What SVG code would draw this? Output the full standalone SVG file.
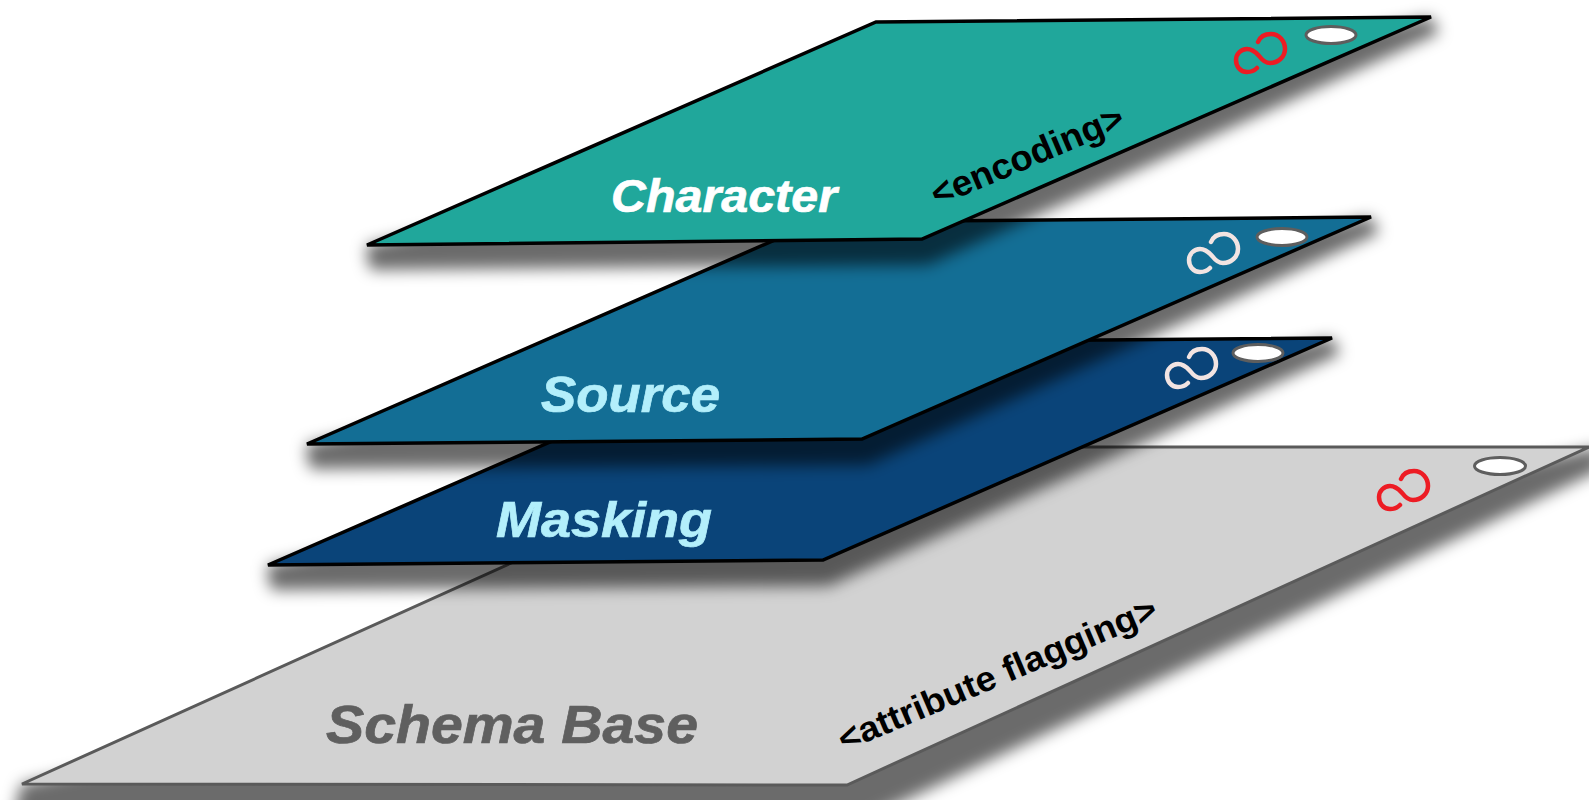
<svg xmlns="http://www.w3.org/2000/svg" xmlns:xlink="http://www.w3.org/1999/xlink" width="1589" height="800" viewBox="0 0 1589 800">
<style>
.plane{stroke:#000;stroke-width:3.5;stroke-linejoin:miter}
.shadow{fill:#000;fill-opacity:.58;filter:url(#blur)}
.hole{fill:#fff;stroke:#5e5e5e;stroke-width:3}
.lbl{font-family:"Liberation Sans",Arial,sans-serif;font-weight:700;font-style:italic;stroke-width:.7}
.tag{font-family:"Liberation Sans",Arial,sans-serif;font-weight:700;fill:#000}
.loop{fill:none;stroke-width:4.500;stroke-linecap:round}
</style>
<defs>
<filter id="blur" filterUnits="userSpaceOnUse" x="-50" y="-50" width="1700" height="900">
<feGaussianBlur stdDeviation="7.500"/>
</filter>
<path id="inf" d="M0 0C-3 3-6 4-10 4C-17 4-21-2-21-8C-21-14-16-19-10-19C-3-19 0-14 3-11C6-7 9-5 13-5C21-5 28-11 28-19C28-27 22-34 14-34C8-34 3-31 1-26"/>
</defs>
<rect width="1589" height="800" fill="#fff"/>
<g id="schema-base">
<polygon class="shadow" points="1600,447 1600,470 860,822 14,822 18,795 22,784"/>
<polygon class="plane" style="stroke:#5a5a5a;stroke-width:3" points="768,447 1589,447 847,785 22,784" fill="#d2d2d2"/>
<ellipse class="hole" cx="1500" cy="466" rx="25.500" ry="8.500"/>
<use xlink:href="#inf" href="#inf" class="loop" stroke="#ed1c24" transform="translate(1400,505)"/>
<text class="lbl" x="326" y="743" font-size="54" fill="#5f5f5f" stroke="#5f5f5f" textLength="372" lengthAdjust="spacingAndGlyphs">Schema Base</text>
<text class="tag" transform="translate(844,752) rotate(-23)" font-size="35" textLength="343" lengthAdjust="spacingAndGlyphs">&lt;attribute flagging&gt;</text>
</g>
<g id="masking">
<polygon class="shadow" points="1332,338 1340,354 829,586 272,590 268,579 268,565"/>
<polygon class="plane" points="777,343 1332,338 823,560 268,565" fill="#0a4479"/>
<ellipse class="hole" cx="1258" cy="353" rx="25" ry="8.500"/>
<use xlink:href="#inf" href="#inf" class="loop" stroke="#f2e4e2" transform="translate(1188,383)"/>
<text class="lbl" x="496" y="537" font-size="50" fill="#b3effb" stroke="#b3effb" textLength="216" lengthAdjust="spacingAndGlyphs">Masking</text>
</g>
<g id="source">
<polygon class="shadow" points="1371,217 1379,233 868,465 311,469 307,458 307,444"/>
<polygon class="plane" points="816,222 1371,217 862,439 307,444" fill="#136e95"/>
<ellipse class="hole" cx="1282" cy="237" rx="25" ry="8.500"/>
<use xlink:href="#inf" href="#inf" class="loop" stroke="#f2e4e2" transform="translate(1210,268)"/>
<text class="lbl" x="541" y="412" font-size="50" fill="#b3effb" stroke="#b3effb" textLength="179" lengthAdjust="spacingAndGlyphs">Source</text>
</g>
<g id="character">
<polygon class="shadow" points="1431,17 1439,33 928,265 371,270 367,259 367,245"/>
<polygon class="plane" points="876,22 1431,17 922,239 367,245" fill="#20a79b"/>
<ellipse class="hole" cx="1331" cy="35" rx="25" ry="8.500"/>
<use xlink:href="#inf" href="#inf" class="loop" stroke="#ed1c24" transform="translate(1257,68)"/>
<text class="lbl" x="611" y="212" font-size="46" fill="#fff" stroke="#fff" textLength="226" lengthAdjust="spacingAndGlyphs">Character</text>
<text class="tag" transform="translate(937,207) rotate(-23)" font-size="36" textLength="206" lengthAdjust="spacingAndGlyphs">&lt;encoding&gt;</text>
</g>
</svg>
